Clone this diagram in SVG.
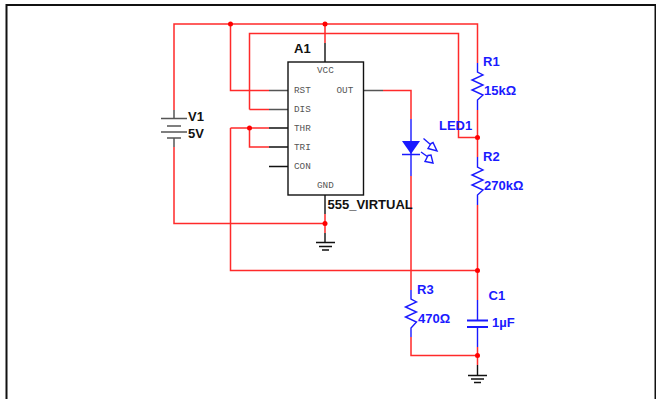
<svg xmlns="http://www.w3.org/2000/svg" width="656" height="399" viewBox="0 0 656 399">
<style>
.r{fill:none;stroke:#ff2a2a;stroke-width:1.5}
.b{fill:none;stroke:#1a1aff;stroke-width:1.4}
.k{fill:none;stroke:#111;stroke-width:1.4}
.g{fill:none;stroke:#555;stroke-width:1.5}
.d{fill:#ff0000}
.p{font:9.3px "Liberation Mono",monospace;fill:#555}
.l{font:bold 13px "Liberation Sans",sans-serif;fill:#111}
.v{font:bold 13px "Liberation Sans",sans-serif;fill:#1a1aff}
</style>
<rect width="656" height="399" fill="#fff"/>
<path d="M6.500 399V5H655.500V399" fill="none" stroke="#111" stroke-width="2"/>
<g id="connectors">
<path class="r" d="M174 110V24H477.500V63M230.500 24V90.500H269M249.500 109.500H269M249.500 109.500V33.500H458.500V137.500H477.500M325 24V43M174 147V223.500H325M325 214V233M383 90.500H411V119M411 176V290M411 337V355.500H477.500M477.500 110V157M477.500 205V300M477.500 347V365M230.500 128V270.500H477.500M230.500 128H269M249.500 128V147H269"/>
<path class="g" d="M269 90.500H288M269 109.500H288M363 90.500H383"/>
<path class="g" d="M174 110V118M174 138V147"/>
<circle class="d" cx="230.500" cy="24" r="2.500"/><circle class="d" cx="325" cy="24" r="2.500"/>
<circle class="d" cx="249.500" cy="128" r="2.500"/><circle class="d" cx="325" cy="223.500" r="2.500"/>
<circle class="d" cx="477.500" cy="137.500" r="2.500"/><circle class="d" cx="477.500" cy="270.500" r="2.500"/><circle class="d" cx="477.500" cy="355.500" r="2.500"/>
</g>
<g id="A1">
<rect x="288" y="62" width="75.500" height="133" fill="#fff" stroke="#111" stroke-width="1.400"/>
<path class="k" d="M325 43V62M325 195V214M269 128H288M269 147H288M269 166.500H288"/>
<text class="l" x="294" y="53">A1</text>
<text class="l" x="327.500" y="208.500">555_VIRTUAL</text>
<text class="p" x="317" y="73">VCC</text><text class="p" x="294" y="93">RST</text><text class="p" x="336.500" y="93">OUT</text>
<text class="p" x="294" y="112">DIS</text><text class="p" x="294" y="131">THR</text><text class="p" x="294" y="150">TRI</text>
<text class="p" x="294" y="169">CON</text><text class="p" x="317" y="188">GND</text>
</g>
<g id="V1">
<path class="g" d="M161 118.500H187M167 126H181M161 132H187M167 138H181"/>
<text class="l" x="188" y="120.500">V1</text><text class="l" x="188" y="137.500">5V</text>
</g>
<g id="GND1"><path class="k" d="M325 233V242M316 242.500H335M319 246.500H332M322 250H329"/></g>
<g id="GND2"><path class="k" d="M477.500 365V375M468 375.500H487M471 379H484M474 382.500H481"/></g>
<g id="R1">
<path class="b" d="M477.500 63V72L483 75 472 80 483 85 472 90 483 95 477.500 100V110"/>
<text class="v" x="483" y="66">R1</text><text class="v" x="484" y="95">15kΩ</text>
</g>
<g id="R2">
<path class="b" d="M477.500 157V167L483 170 472 175 483 180 472 185 483 190 477.500 195V205"/>
<text class="v" x="483" y="161">R2</text><text class="v" x="484" y="190">270kΩ</text>
</g>
<g id="R3">
<path class="b" d="M411 290V299L416.500 302 405.500 307 416.500 312 405.500 317 416.500 322 411 328V337"/>
<text class="v" x="417" y="294">R3</text><text class="v" x="418" y="323">470Ω</text>
</g>
<g id="C1">
<path class="b" d="M477.500 300V320.500M477.500 327V347"/>
<path fill="none" stroke="#1a1aff" stroke-width="2.200" d="M467 320.500H488M467 327H488"/>
<text class="v" x="488.500" y="300">C1</text><text class="v" x="492" y="327">1µF</text>
</g>
<g id="LED1">
<path class="b" d="M411 119V176M402 154.500H420"/>
<path d="M402 141H420L411 154Z" fill="#1a1aff"/>
<path class="b" stroke-width="1" d="M423.500 138.500L431 145M431 143.500L428 148.500 437 151 433 142.500ZM421 152L428 157M428 155.500L425 161.500 433 163 431 155Z"/>
<text class="v" x="439" y="129.500">LED1</text>
</g>
</svg>
